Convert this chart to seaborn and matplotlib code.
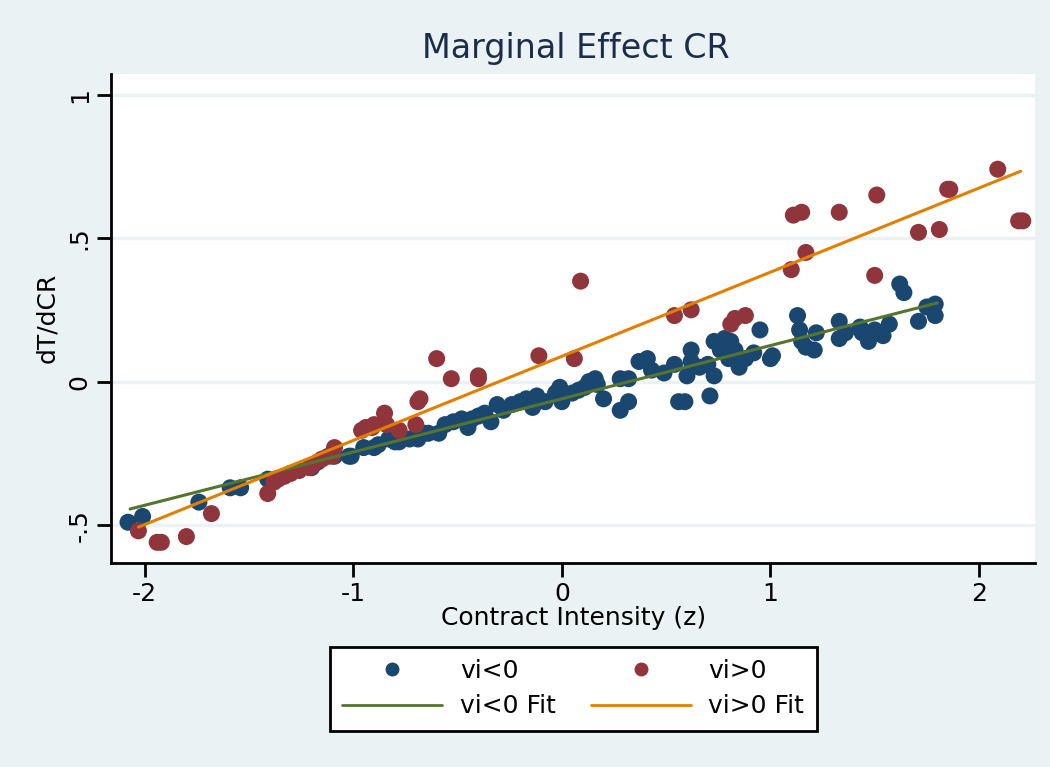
import matplotlib
matplotlib.use("Agg")
import matplotlib.pyplot as plt
import seaborn as sns
import pandas as pd
from matplotlib.lines import Line2D

# vi<0 points (x = contract intensity, y = dT/dCR)
neg_x = [-2.08, -2.01, -1.74, -1.59, -1.54, -1.41, -1.20, -1.17, -1.09, -1.02,
         -1.01, -0.95, -0.90, -0.88, -0.83, -0.80, -0.78, -0.73, -0.69, -0.66,
         -0.64, -0.59, -0.56, -0.52, -0.48, -0.45, -0.43, -0.40, -0.37, -0.34,
         -0.31, -0.28, -0.24, -0.20, -0.17, -0.14, -0.12, -0.08, -0.03, -0.01,
         0.00, 0.05, 0.08, 0.11, 0.13, 0.16, 0.17, 0.20, 0.28, 0.32,
         0.28, 0.32, 0.37, 0.41, 0.43, 0.49, 0.54, 0.56, 0.59, 0.60,
         0.62, 0.62, 0.66, 0.70, 0.71, 0.73, 0.73, 0.78, 0.81, 0.76,
         0.80, 0.83, 0.85, 0.88, 0.92, 0.95, 1.00, 1.01, 1.13, 1.14,
         1.15, 1.17, 1.22, 1.21, 1.33, 1.33, 1.36, 1.43, 1.44, 1.47,
         1.50, 1.54, 1.57, 1.62, 1.64, 1.71, 1.75, 1.79, 1.79]
neg_y = [-0.49, -0.47, -0.42, -0.37, -0.37, -0.34, -0.30, -0.28, -0.26, -0.26,
         -0.26, -0.23, -0.23, -0.22, -0.20, -0.21, -0.21, -0.20, -0.20, -0.18,
         -0.18, -0.18, -0.15, -0.14, -0.13, -0.16, -0.13, -0.12, -0.11, -0.14,
         -0.08, -0.10, -0.08, -0.07, -0.06, -0.09, -0.05, -0.07, -0.04, -0.02,
         -0.07, -0.04, -0.03, -0.02, 0.00, 0.01, -0.01, -0.06, 0.01, 0.01,
         -0.10, -0.07, 0.07, 0.08, 0.04, 0.03, 0.06, -0.07, -0.07, 0.02,
         0.11, 0.07, 0.05, 0.06, -0.05, 0.02, 0.14, 0.15, 0.14, 0.11,
         0.08, 0.11, 0.05, 0.08, 0.10, 0.18, 0.08, 0.09, 0.23, 0.18,
         0.14, 0.12, 0.17, 0.11, 0.21, 0.15, 0.17, 0.19, 0.17, 0.14,
         0.18, 0.16, 0.20, 0.34, 0.31, 0.21, 0.26, 0.27, 0.23]

# vi>0 points
pos_x = [-2.03, -1.94, -1.92, -1.80, -1.68, -1.41, -1.38, -1.36, -1.33, -1.30,
         -1.26, -1.21, -1.19, -1.15, -1.12, -1.09, -1.10, -0.96, -0.94, -0.91,
         -0.90, -0.85, -0.84, -0.78, -0.70, -0.69, -0.68, -0.60, -0.53, -0.40,
         -0.40, -0.11, 0.06, 0.09, 0.54, 0.62, 0.81, 0.83, 0.88, 1.10,
         1.11, 1.15, 1.17, 1.33, 1.50, 1.51, 1.71, 1.81, 1.85, 1.86,
         2.09, 2.19, 2.21]
pos_y = [-0.52, -0.56, -0.56, -0.54, -0.46, -0.39, -0.35, -0.34, -0.33, -0.32,
         -0.31, -0.30, -0.29, -0.27, -0.26, -0.23, -0.26, -0.17, -0.16, -0.16,
         -0.15, -0.11, -0.15, -0.17, -0.15, -0.07, -0.06, 0.08, 0.01, 0.01,
         0.02, 0.09, 0.08, 0.35, 0.23, 0.25, 0.20, 0.22, 0.23, 0.39,
         0.58, 0.59, 0.45, 0.59, 0.37, 0.65, 0.52, 0.53, 0.67, 0.67,
         0.74, 0.56, 0.56]

# fitted lines, end points
fit_neg_x = [-2.07, 1.80]
fit_neg_y = [-0.444, 0.274]
fit_pos_x = [-2.03, 2.20]
fit_pos_y = [-0.507, 0.733]

navy = "#1A476F"
maroon = "#90353B"
green = "#55752F"
orange = "#E37E00"
bg = "#EAF2F3"

sns.set_style("white")
plt.rcParams["font.family"] = ["DejaVu Sans"]
plt.rcParams["text.color"] = "black"
plt.rcParams["axes.labelcolor"] = "black"

pts = pd.DataFrame({
    "x": neg_x + pos_x,
    "y": neg_y + pos_y,
    "grp": ["vi<0"] * len(neg_x) + ["vi>0"] * len(pos_x),
})

fig = plt.figure(figsize=(10.5, 7.67), dpi=100, facecolor=bg)
ax = fig.add_axes([0.106, 0.266, 0.880, 0.638])
ax.set_facecolor("white")

sns.scatterplot(data=pts, x="x", y="y", hue="grp",
                palette={"vi<0": navy, "vi>0": maroon},
                s=150, edgecolor="none", linewidth=0, alpha=1, legend=False, ax=ax, zorder=3)
sns.lineplot(x=fit_neg_x, y=fit_neg_y, color=green, lw=2.2, ax=ax, zorder=4)
sns.lineplot(x=fit_pos_x, y=fit_pos_y, color=orange, lw=2.2, ax=ax, zorder=4)

ax.set_xlim(-2.16, 2.27)
ax.set_ylim(-0.632, 1.073)
ax.set_xticks([-2, -1, 0, 1, 2])
ax.set_xticklabels(["-2", "-1", "0", "1", "2"])
ax.set_yticks([-0.5, 0, 0.5, 1])
ax.set_yticklabels(["-.5", "0", ".5", "1"], rotation=90, va="center")
ax.yaxis.grid(True, color=bg, lw=2.5, zorder=0)
ax.set_axisbelow(True)

for s in ["top", "right"]:
    ax.spines[s].set_visible(False)
for s in ["left", "bottom"]:
    ax.spines[s].set_color("black")
    ax.spines[s].set_linewidth(2)
ax.tick_params(axis="both", bottom=True, left=True, direction="out", length=10,
               width=2, colors="black", labelsize=18, pad=4)

ax.set_xlabel("Contract Intensity (z)", fontsize=18, labelpad=0)
ax.set_ylabel("dT/dCR", fontsize=18, labelpad=6)
fig.text(0.548, 0.937, "Marginal Effect CR", ha="center", va="center",
         fontsize=24, color="#1C2C4C")

handles = [
    Line2D([], [], ls="none", marker="o", ms=9, color=navy),
    Line2D([], [], ls="none", marker="o", ms=9, color=maroon),
    Line2D([], [], color=green, lw=2),
    Line2D([], [], color=orange, lw=2),
]
labels = ["vi<0", "vi<0 Fit", "vi>0", "vi>0 Fit"]
leg = fig.legend([handles[0], handles[2], handles[1], handles[3]], labels,
                 loc="center", bbox_to_anchor=(0.546, 0.102), ncol=2,
                 fontsize=18, frameon=True, fancybox=False, edgecolor="black",
                 facecolor="white", framealpha=1,
                 handlelength=4.0, handletextpad=0.7, columnspacing=1.4,
                 borderpad=0.5, labelspacing=0.45)
leg.get_frame().set_linewidth(2)

fig.savefig("out.png", dpi=100, facecolor=bg)
